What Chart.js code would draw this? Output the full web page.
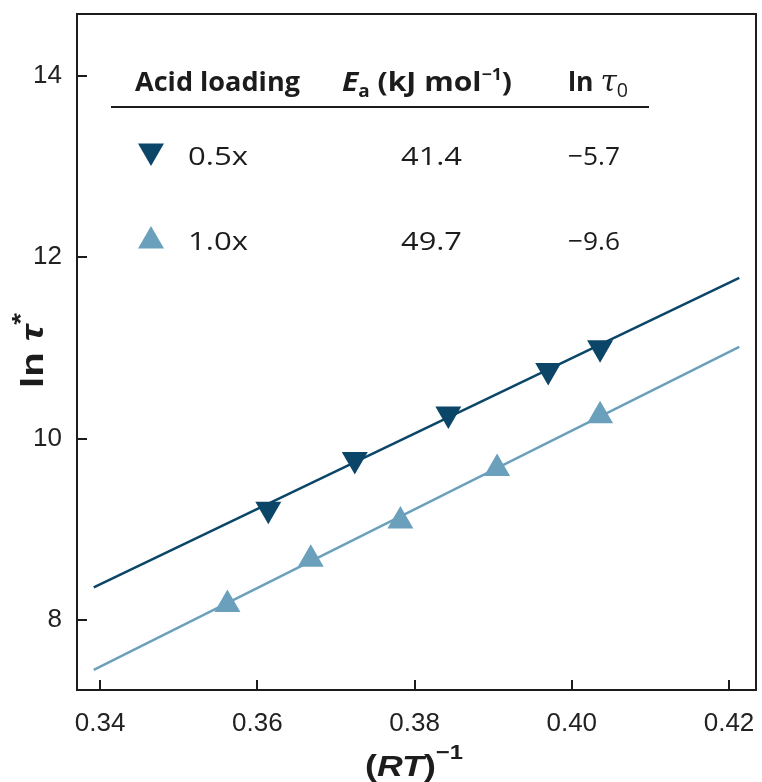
<!DOCTYPE html>
<html>
<head>
<meta charset="utf-8">
<script src="https://cdn.jsdelivr.net/npm/chart.js@4/dist/chart.umd.min.js"></script>
<style>
  html, body { margin: 0; padding: 0; background: #fff; }
  #wrap { width: 762px; height: 782px; }
</style>
</head>
<body>
<div id="wrap"><canvas id="arrh"></canvas></div>
<script>
// tick labels
const xTicks = [0.34, 0.36, 0.38, 0.40, 0.42];
const yTicks = [8, 10, 12, 14];

// measured points, (RT)^-1 vs ln tau*
const x05 = [0.3614, 0.3724, 0.3843, 0.3970, 0.4036];
const y05 = [9.22, 9.77, 10.27, 10.75, 11.00];
const x10 = [0.3562, 0.3668, 0.3782, 0.3905, 0.4036];
const y10 = [8.17, 8.67, 9.09, 9.67, 10.25];

// linear fits (end points)
const fitX = [0.3392, 0.4213];
const fit05 = [8.36, 11.77];
const fit10 = [7.45, 11.01];

// table in the plot
const loading = ["0.5x", "1.0x"];
const eaVals = ["41.4", "49.7"];
const lnTau0 = ["\u22125.7", "\u22129.6"];

const DARK = "#0b4669";
const LIGHT = "#6aa0bc";
const INK = "#1c1c1c";

function pts(xs, ys) {
  return xs.map((x, i) => ({ x: x, y: ys[i] }));
}

// draw a run of text pieces stretched to fit [left, right]
function drawFit(ctx, parts, left, right, baseline) {
  let w = 0;
  parts.forEach(p => { ctx.font = p.font; w += ctx.measureText(p.t).width; });
  const sx = (right - left) / w;
  ctx.save();
  ctx.translate(left, baseline);
  ctx.scale(sx, 1);
  let cx = 0;
  parts.forEach(p => {
    ctx.font = p.font;
    ctx.fillText(p.t, cx, p.dy || 0);
    cx += ctx.measureText(p.t).width;
  });
  ctx.restore();
}

function tri(ctx, x, y, r, down) {
  const s = down ? -1 : 1;
  ctx.beginPath();
  ctx.moveTo(x, y - s * r);
  ctx.lineTo(x + r * 0.866, y + s * r / 2);
  ctx.lineTo(x - r * 0.866, y + s * r / 2);
  ctx.closePath();
  ctx.fill();
}

function noPad(s) {
  s.paddingTop = 0;
  s.paddingBottom = 0;
  s.paddingLeft = 0;
  s.paddingRight = 0;
}

const frame = {
  id: "frame",
  afterDraw(chart) {
    const ctx = chart.ctx;
    const a = chart.chartArea;
    const sx = chart.scales.x, sy = chart.scales.y;
    ctx.save();
    ctx.strokeStyle = INK;
    ctx.lineWidth = 2;
    ctx.strokeRect(a.left, a.top, a.right - a.left, a.bottom - a.top);
    ctx.beginPath();
    xTicks.forEach(v => {
      const px = Math.round(sx.getPixelForValue(v));
      ctx.moveTo(px, a.bottom);
      ctx.lineTo(px, a.bottom - 10);
    });
    yTicks.forEach(v => {
      const py = Math.round(sy.getPixelForValue(v));
      ctx.moveTo(a.left, py);
      ctx.lineTo(a.left + 10, py);
    });
    ctx.stroke();

    // table
    ctx.fillStyle = INK;
    ctx.textBaseline = "alphabetic";
    const hb = "bold 27px 'Open Sans'";
    drawFit(ctx, [{ t: "Acid loading", font: hb }], 135, 300, 91);
    drawFit(ctx, [
      { t: "E", font: "italic bold 27px 'Open Sans'" },
      { t: "a", font: "bold 17px 'Open Sans'", dy: 6 },
      { t: " (kJ mol", font: hb },
      { t: "\u22121", font: "bold 16px 'Open Sans'", dy: -11 },
      { t: ")", font: hb }
    ], 342, 512, 91);
    drawFit(ctx, [
      { t: "ln ", font: hb },
      { t: "\u03c4", font: "italic 30px 'DejaVu Serif'" },
      { t: "0", font: "20px 'Open Sans'", dy: 6 }
    ], 568, 628, 91);
    ctx.fillRect(111, 106, 538, 2);

    const rf = "26px 'Open Sans'";
    const rows = [165, 250];
    loading.forEach((t, i) => {
      drawFit(ctx, [{ t: t, font: rf }], 188, 248, rows[i]);
      drawFit(ctx, [{ t: eaVals[i], font: rf }], 401, 462, rows[i]);
      drawFit(ctx, [{ t: lnTau0[i], font: rf }], 568, 620, rows[i]);
    });
    ctx.fillStyle = DARK;
    tri(ctx, 151, 151, 15, true);
    ctx.fillStyle = LIGHT;
    tri(ctx, 151, 241, 15, false);

    // axis titles
    ctx.fillStyle = INK;
    const tb = "bold 30px 'Liberation Sans'";
    drawFit(ctx, [
      { t: "(", font: tb },
      { t: "RT", font: "italic bold 30px 'Liberation Sans'" },
      { t: ")", font: tb },
      { t: "\u22121", font: "bold 20px 'Liberation Sans'", dy: -17 }
    ], 365, 463, 776);

    ctx.save();
    ctx.translate(43, 388);
    ctx.rotate(-Math.PI / 2);
    drawFit(ctx, [
      { t: "ln ", font: "bold 32px 'Liberation Sans'" },
      { t: "\u03c4", font: "italic bold 32px 'Liberation Sans'" },
      { t: "*", font: "bold 24px 'Liberation Sans'", dy: -14 }
    ], 0, 75, 0);
    ctx.restore();
    ctx.restore();
  }
};

const tickFont = { family: "'Liberation Sans', Arial, sans-serif", size: 26 };

new Chart(document.getElementById("arrh"), {
  type: "scatter",
  data: {
    datasets: [
      {
        label: "0.5x",
        data: pts(x05, y05),
        pointStyle: "triangle",
        rotation: 180,
        pointRadius: 15,
        pointBorderWidth: 0,
        backgroundColor: DARK,
        borderColor: DARK
      },
      {
        label: "1.0x",
        data: pts(x10, y10),
        pointStyle: "triangle",
        pointRadius: 15,
        pointBorderWidth: 0,
        backgroundColor: LIGHT,
        borderColor: LIGHT
      },
      {
        label: "fit 0.5x",
        data: pts(fitX, fit05),
        showLine: true,
        pointRadius: 0,
        borderWidth: 2.5,
        borderColor: DARK
      },
      {
        label: "fit 1.0x",
        data: pts(fitX, fit10),
        showLine: true,
        pointRadius: 0,
        borderWidth: 2.5,
        borderColor: LIGHT
      }
    ]
  },
  options: {
    responsive: true,
    maintainAspectRatio: false,
    animation: false,
    layout: { autoPadding: false, padding: { top: 14, right: 6, left: 0, bottom: 0 } },
    plugins: { legend: { display: false }, tooltip: { enabled: false } },
    scales: {
      x: {
        type: "linear",
        min: 0.33707,
        max: 0.42343,
        grid: { display: false },
        border: { display: false },
        afterBuildTicks: s => { s.ticks = xTicks.map(v => ({ value: v })); },
        afterFit: s => { s.height = 92; noPad(s); },
        ticks: {
          font: tickFont,
          color: "#222",
          padding: 10,
          maxRotation: 0,
          autoSkip: false,
          callback: v => v.toFixed(2)
        }
      },
      y: {
        type: "linear",
        min: 7.229,
        max: 14.678,
        grid: { display: false },
        border: { display: false },
        afterBuildTicks: s => { s.ticks = yTicks.map(v => ({ value: v })); },
        afterFit: s => { s.width = 77; noPad(s); },
        ticks: {
          font: tickFont,
          color: "#222",
          padding: 7,
          callback: v => String(v)
        }
      }
    }
  },
  plugins: [frame]
});
</script>
</body>
</html>
